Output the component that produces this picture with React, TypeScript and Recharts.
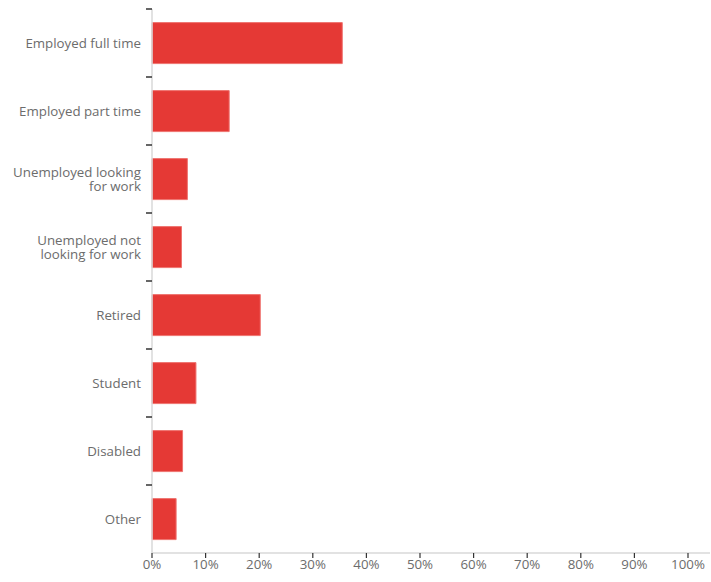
import React from "react";
import { BarChart, Bar, XAxis, YAxis } from "recharts";

const categories = [
  "Employed full time",
  "Employed part time",
  "Unemployed looking for work",
  "Unemployed not looking for work",
  "Retired",
  "Student",
  "Disabled",
  "Other",
];
const categoryLines: string[][] = [
  ["Employed full time"],
  ["Employed part time"],
  ["Unemployed looking", "for work"],
  ["Unemployed not", "looking for work"],
  ["Retired"],
  ["Student"],
  ["Disabled"],
  ["Other"],
];
const percentages = [35.5, 14.4, 6.6, 5.5, 20.2, 8.2, 5.7, 4.5];
const xTicks = [0, 10, 20, 30, 40, 50, 60, 70, 80, 90, 100];

const data = categories.map((name, i) => ({ name, value: percentages[i] }));

const WIDTH = 711;
const HEIGHT = 582;
const MARGIN = { top: 9, right: 1, bottom: 0, left: 0 };
const X_AXIS_HEIGHT = 29;
const PLOT_HEIGHT = HEIGHT - MARGIN.top - MARGIN.bottom - X_AXIS_HEIGHT;
const BAND = PLOT_HEIGHT / categories.length;
const FONT = "'Open Sans', sans-serif";
const FONT_SIZE = 13.3;
const TEXT_COLOR = "#6c6c6c";

const YTick = (props: any) => {
  const { x, y, index, payload } = props;
  const lines = categoryLines[index] ?? [String(payload.value)];
  const lh = 14;
  const startY = y - ((lines.length - 1) * lh) / 2;
  return (
    <g>
      <line x1={x + 5} x2={x + 11} y1={y - BAND / 2} y2={y - BAND / 2} stroke="#333" strokeWidth={1.5} />
      {lines.map((l, i) => (
        <text
          key={i}
          x={x}
          y={startY + i * lh}
          textAnchor="end"
          dominantBaseline="central"
          fill={TEXT_COLOR}
          fontSize={FONT_SIZE}
          fontFamily={FONT}
        >
          {l}
        </text>
      ))}
    </g>
  );
};

export default function App() {
  return (
    <div style={{ position: "absolute", left: 0, top: 0, background: "#fff" }}>
      <BarChart
        width={WIDTH}
        height={HEIGHT}
        data={data}
        layout="vertical"
        margin={MARGIN}
        barCategoryGap="20%"
      >
        <XAxis
          type="number"
          domain={[0, 100]}
          ticks={xTicks}
          tickFormatter={(v) => `${v}%`}
          height={X_AXIS_HEIGHT}
          padding={{ left: 0, right: 22 }}
          axisLine={{ stroke: "#d9d9d9", strokeWidth: 1.5 }}
          tickLine={{ stroke: "#333", strokeWidth: 1.2 }}
          tickSize={5}
          tickMargin={2}
          tick={{ fill: TEXT_COLOR, fontSize: FONT_SIZE, fontFamily: FONT }}
          interval={0}
        />
        <YAxis
          type="category"
          dataKey="name"
          width={152}
          axisLine={{ stroke: "#d9d9d9", strokeWidth: 1.5 }}
          tickLine={false}
          tickSize={0}
          tickMargin={11}
          tick={<YTick />}
          interval={0}
        />
        <Bar dataKey="value" fill="#e53935" stroke="#ef7370" strokeWidth={1} isAnimationActive={false} />
      </BarChart>
    </div>
  );
}
